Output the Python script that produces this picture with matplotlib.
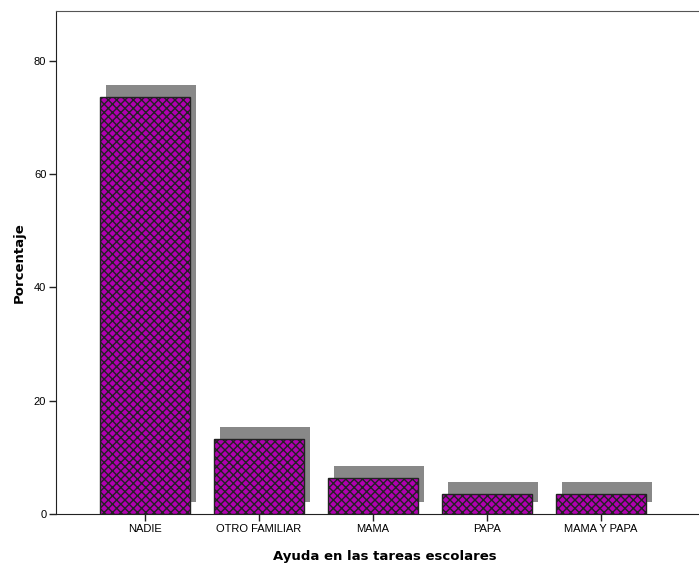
import matplotlib
matplotlib.use("Agg")
import matplotlib.pyplot as plt
import matplotlib.transforms as mtransforms

# ==============================
# DATOS
# ==============================

categorias = ["NADIE", "OTRO FAMILIAR", "MAMA", "PAPA", "MAMA Y PAPA"]
porcentajes = [73.7, 13.3, 6.3, 3.6, 3.6]
ticks_y = [0, 20, 40, 60, 80]

# ==============================
# GRAFICA
# ==============================

plt.rcParams["hatch.color"] = "#2a002a"
plt.rcParams["hatch.linewidth"] = 1.0

fig = plt.figure(figsize=(6.99, 5.67), dpi=100)
W, H = 699, 567
ax = fig.add_axes([56 / W, 53 / H, 657 / W, 503 / H])

x = list(range(len(categorias)))

# sombra gris desplazada
sombra = mtransforms.offset_copy(ax.transData, fig=fig, x=6, y=12, units="dots")
ax.bar(x, porcentajes, width=0.79, color="#888888", edgecolor="none",
       transform=sombra, zorder=1)

ax.bar(x, porcentajes, width=0.79, color="#b000b0", edgecolor="#222222",
       linewidth=1.0, hatch="xxxx", zorder=2)

ax.set_xlim(-0.7807, 4.982)
ax.set_ylim(0, 88.8)
ax.set_xticks(x)
ax.set_xticklabels(categorias, fontfamily="Liberation Sans", fontsize=8)
ax.set_yticks(ticks_y)
ax.set_yticklabels([str(t) for t in ticks_y], fontfamily="Liberation Sans", fontsize=8)
ax.tick_params(axis="both", direction="out", length=5, width=1, color="#222222", pad=2)

ax.spines["right"].set_visible(False)
ax.spines["top"].set_color("#555555")
for s in ["left", "bottom"]:
    ax.spines[s].set_color("#222222")

ax.set_xlabel("Ayuda en las tareas escolares", fontweight="bold", fontsize=9.5, labelpad=12)
ax.set_ylabel("Porcentaje", fontweight="bold", fontsize=9.5, labelpad=6)

fig.savefig("out.png", dpi=100)
